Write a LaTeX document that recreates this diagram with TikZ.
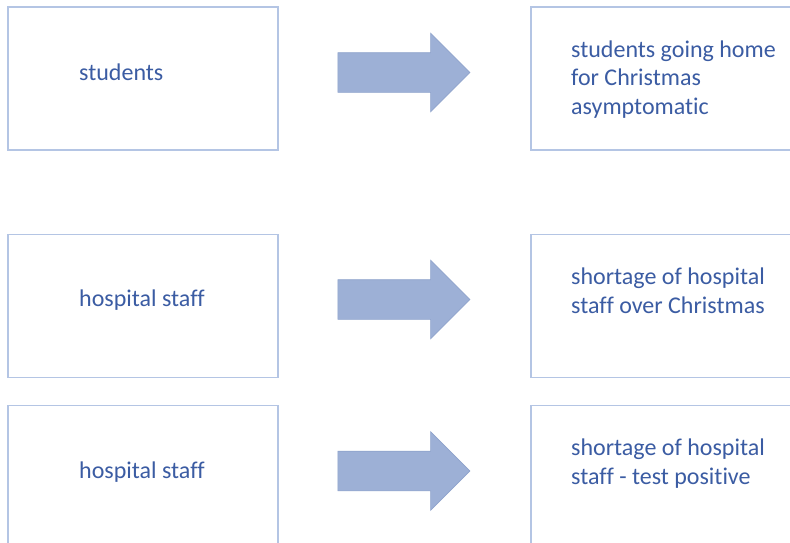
\documentclass[tikz,border=0pt]{standalone}
\usepackage{fontspec}
\setmainfont{Carlito}[Ligatures=NoCommon]
\usetikzlibrary{shapes.arrows}
\definecolor{boxline}{HTML}{B4C5E4}
\definecolor{txt}{HTML}{3B5CA3}
\definecolor{arrfill}{HTML}{9DB0D6}
\definecolor{arrline}{HTML}{8FA3CC}
\begin{document}
\begin{tikzpicture}[x=1pt,y=-1pt,
  box/.style={draw=boxline, line width=1.3pt, fill=white, rectangle, inner sep=0pt,
    minimum width=270pt, minimum height=143pt},
  lbl/.style={text=txt, font=\fontsize{24}{28.5}\selectfont, anchor=base west, inner sep=0pt, align=left},
  blockarrow/.style={single arrow, fill=arrfill, draw=arrline, line width=0.6pt,
    minimum height=132pt, inner xsep=0pt, inner ysep=19.5pt, single arrow head extend=19.5pt,
    anchor=center}]
\clip (0,0) rectangle (790,542);
\fill[white] (0,0) rectangle (790,542);
% left boxes
\node[box] (l1) at (143,78.5) {};
\node[box] (l2) at (143,306) {};
\node[box] (l3) at (143,477) {};
% right boxes
\node[box] (r1) at (666,78.5) {};
\node[box] (r2) at (666,306) {};
\node[box] (r3) at (666,477) {};
% arrows
\node[blockarrow] (a1) at (394,72.5) {};
\node[blockarrow] (a2) at (394,299.5) {};
\node[blockarrow] (a3) at (394,471) {};
% labels
\node[lbl] (t1) at (79,80) {students};
\node[lbl] (t2) at (79,306.5) {hospital staff};
\node[lbl] (t3) at (79,478) {hospital staff};
\node[lbl] (u1) at (571,114) {students going home\\for Christmas\\asymptomatic};
\node[lbl] (u2) at (571,313) {shortage of hospital\\staff over Christmas};
\node[lbl] (u3) at (571,484) {shortage of hospital\\staff - test positive};
\end{tikzpicture}
\end{document}
